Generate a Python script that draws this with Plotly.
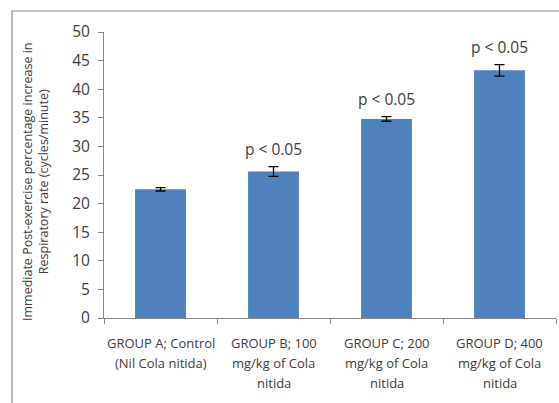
import plotly.graph_objects as go

# Group labels (one entry per line of each label)
groups = [
    ["GROUP A; Control", "(Nil Cola nitida)"],
    ["GROUP B; 100", "mg/kg of Cola", "nitida"],
    ["GROUP C; 200", "mg/kg of Cola", "nitida"],
    ["GROUP D; 400", "mg/kg of Cola", "nitida"],
]
categories = ["A", "B", "C", "D"]
mean_increase = [22.5, 25.6, 34.8, 43.3]
sem = [0.3, 0.85, 0.4, 1.0]
significance = ["", "p < 0.05", "p < 0.05", "p < 0.05"]
y_ticks = [0, 5, 10, 15, 20, 25, 30, 35, 40, 45, 50]

FONT = "Open Sans"
TEXT = "#404040"
AXIS = "#868686"
BAR = "#4F81BD"

W, H = 559, 403
L, R, T, B = 104, 3, 32, 85
pw, ph = W - L - R, H - T - B

fig = go.Figure(
    go.Bar(
        x=categories,
        y=mean_increase,
        width=0.45,
        marker=dict(color=BAR, line=dict(width=0)),
        error_y=dict(type="data", array=sem, visible=True,
                     color="#000000", thickness=1.3, width=5),
    )
)

annotations = []
# significance labels above bars
for cat, v, e, s in zip(categories, mean_increase, sem, significance):
    if s:
        annotations.append(dict(
            x=cat, y=v + e, xref="x", yref="y", text=s, showarrow=False,
            yanchor="bottom", yshift=5,
            font=dict(family=FONT, size=15.5, color=TEXT),
        ))
# category labels, one annotation per line
for cat, lines in zip(categories, groups):
    for i, line in enumerate(lines):
        annotations.append(dict(
            x=cat, y=0, xref="x", yref="paper", text=line, showarrow=False,
            yanchor="middle", yshift=-25 - 20 * i,
            font=dict(family=FONT, size=13, color=TEXT),
        ))
# y-axis title
annotations.append(dict(
    x=(35 - L) / pw, y=0.5, xref="paper", yref="paper", yshift=-7,
    text="Immediate Post-exercise percentage increase in<br>Respiratory rate (cycles/minute)",
    textangle=-90, showarrow=False, xanchor="center", yanchor="middle",
    font=dict(family=FONT, size=12.5, color=TEXT),
))

# outer chart frame (left and top edges)
fx0 = (12 - L) / pw
fy0 = (H - B - 11) / ph
shapes = [dict(
    type="path", xref="paper", yref="paper",
    path=f"M {fx0} {-B / ph - 0.01} L {fx0} {fy0} L {1 + R / pw + 0.01} {fy0}",
    line=dict(color=AXIS, width=1.2),
)]

fig.update_layout(
    width=W, height=H,
    margin=dict(l=L, r=R, t=T, b=B),
    paper_bgcolor="white", plot_bgcolor="white",
    showlegend=False,
    annotations=annotations,
    shapes=shapes,
    xaxis=dict(
        type="category", range=[-0.5, 3.5],
        showticklabels=False, tickson="boundaries",
        ticks="outside", ticklen=5, tickcolor=AXIS,
        showline=True, linecolor=AXIS, linewidth=1, showgrid=False,
        zeroline=False,
    ),
    yaxis=dict(
        range=[0, 50], tickvals=y_ticks,
        ticks="outside", ticklen=5, tickcolor=AXIS,
        ticklabelstandoff=5,
        showline=True, linecolor=AXIS, linewidth=1,
        showgrid=False, zeroline=False,
        tickfont=dict(family=FONT, size=15.5, color=TEXT),
    ),
)

fig.write_html("out.html")
